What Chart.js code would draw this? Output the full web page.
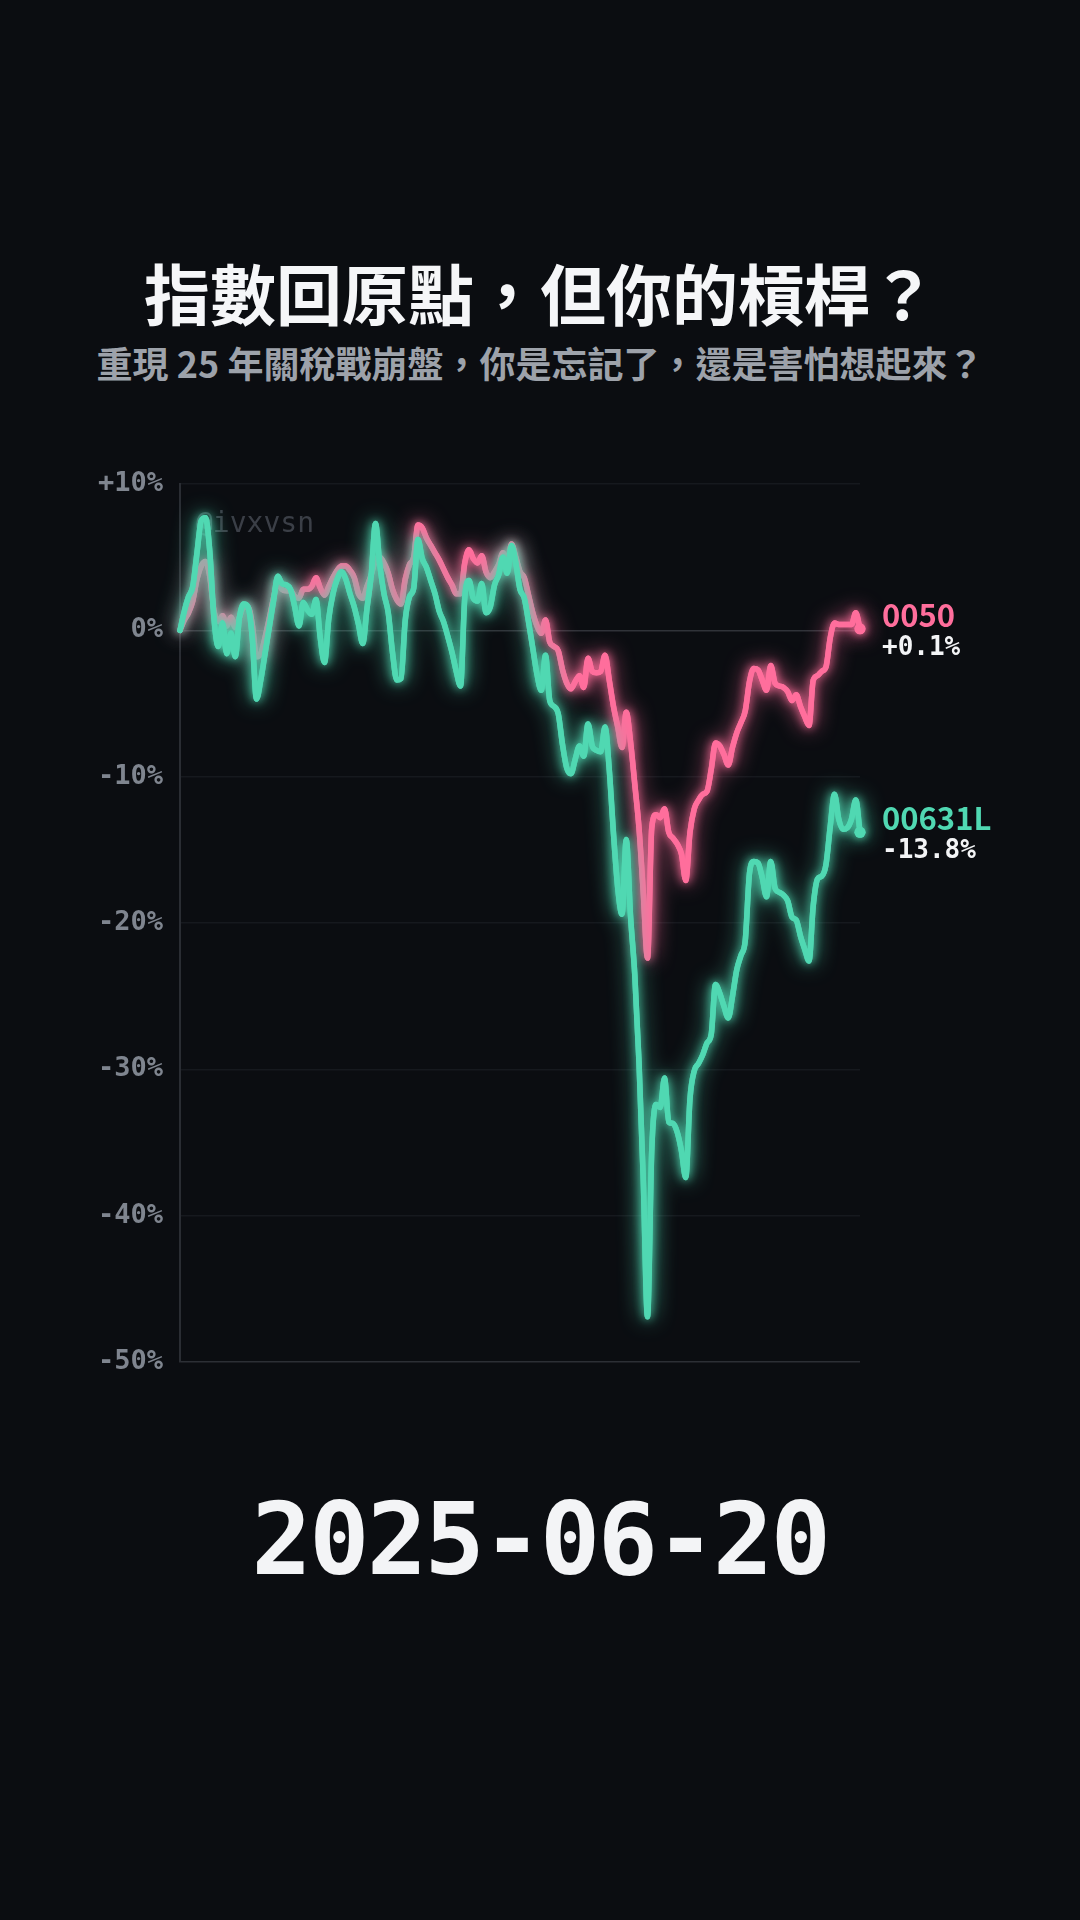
<!DOCTYPE html>
<html lang="zh-Hant">
<head>
<meta charset="utf-8">
<title>指數回原點，但你的槓桿？</title>
<script src="https://cdn.jsdelivr.net/npm/chart.js@4.4.1/dist/chart.umd.min.js"></script>
<style>
    html, body { margin: 0; padding: 0; background: #0b0d11; }
    body { width: 1080px; height: 1920px; position: relative; overflow: hidden; }
    .title {
        position: absolute; left: 0; top: 251px; width: 1080px;
        text-align: center; line-height: 80px;
        font-family: "Noto Sans CJK TC", sans-serif; font-weight: 700;
        font-size: 66px; color: #f5f6f8;
    }
    .subtitle {
        position: absolute; left: 0; top: 339px; width: 1080px;
        text-align: center; line-height: 46px;
        font-family: "Noto Sans CJK TC", sans-serif; font-weight: 700;
        font-size: 36px; color: #9da2aa;
    }
    .chart-wrap { position: absolute; left: 0; top: 440px; width: 1080px; height: 980px; }
    .date {
        position: absolute; left: 0; top: 1480px; width: 1080px;
        text-align: center; line-height: 120px; letter-spacing: -2.5px;
        font-family: "DejaVu Sans Mono", monospace; font-weight: 700;
        font-size: 100px; color: #f3f4f6;
    }
</style>
</head>
<body>
<div class="title">指數回原點，但你的槓桿？</div>
<div class="subtitle">重現 25 年關稅戰崩盤，你是忘記了，還是害怕想起來？</div>
<div class="chart-wrap"><canvas id="chart" width="1080" height="980"></canvas></div>
<div class="date" id="date"></div>

<script>
(function () {
    "use strict";

    // Data (cumulative return %, one point per trading day)
    const currentDate = "2025-06-20";
    const seriesNames = ["00631L", "0050"];
    const seriesColors = ["#50d8b2", "#ff6e9c"];
    const yTicks = [10, 0, -10, -20, -30, -40, -50];

    const ret00631L = [
        0, 1.3, 2.3, 3.0, 5.3, 7.5, 7.7, 5.4, 0.8, -1.1,
        0.5, -1.6, -0.2, -1.8, 0.9, 1.8, 1.6, -0.5, -4.7, -3.4,
        -1.6, 0.2, 2.0, 3.7, 3.2, 3.1, 2.8, 1.6, 0.3, 1.9,
        1.4, 1.1, 2.1, -0.5, -2.2, 0.8, 2.5, 3.5, 4.0, 3.5,
        2.5, 1.6, 0.4, -0.9, 1.5, 3.8, 7.3, 4.5, 2.5, 1.2,
        -1.5, -3.4, -3.3, 0.7, 2.3, 2.9, 6.2, 4.9, 4.3, 3.4,
        2.5, 1.3, 0.6, -0.4, -1.5, -2.8, -3.8, 2.2, 3.4, 2.2,
        2.0, 3.2, 1.2, 1.6, 3.1, 3.8, 5.0, 3.9, 5.8, 4.6,
        2.8, 2.2, 0.6, -1.2, -3.0, -4.1, -1.7, -4.8, -5.2, -5.7,
        -7.8, -9.4, -9.8, -8.8, -7.9, -8.6, -6.4, -7.9, -8.2, -8.3,
        -6.6, -9.5, -13.9, -17.6, -19.4, -14.3, -19.5, -23.5, -29.5, -37.5,
        -46.9, -35.5, -32.4, -32.6, -30.6, -33.6, -33.7, -34.3, -35.6, -37.4,
        -32.0, -30.1, -29.6, -29.0, -28.2, -27.6, -24.2, -24.8, -25.7, -26.5,
        -25.0, -23.2, -22.2, -21.2, -16.6, -15.8, -15.9, -16.9, -18.2, -15.8,
        -17.6, -17.9, -18.1, -18.5, -19.6, -19.8, -20.9, -21.8, -22.6, -18.8,
        -17.0, -16.8, -16.0, -13.4, -11.2, -12.9, -13.6, -13.5, -12.9, -11.6,
        -13.8
    ];

    const ret0050 = [
        0, 0.7, 1.2, 2.0, 3.5, 4.4, 4.7, 3.7, 1.3, 0.6,
        1.0, 0.3, 0.9, 0.2, 0.9, 1.6, 1.6, 0.4, -1.8, -1.6,
        -0.5, 0.8, 2.2, 3.3, 2.8, 2.7, 2.7, 2.3, 2.2, 2.8,
        2.8, 3.0, 3.6, 2.9, 2.4, 3.0, 3.6, 4.1, 4.4, 4.4,
        4.1, 3.6, 2.5, 2.2, 3.0, 3.8, 4.8, 5.0, 4.6, 3.9,
        2.8, 2.1, 1.8, 3.5, 4.5, 5.0, 7.2, 7.0, 6.3, 5.8,
        5.3, 4.8, 4.2, 3.6, 3.1, 2.5, 2.5, 4.6, 5.5, 4.9,
        4.6, 5.1, 4.0, 3.6, 4.0, 4.5, 5.3, 4.5, 5.9, 5.0,
        4.0, 3.6, 2.4, 1.2, 0.3, -0.2, 0.7, -0.8, -1.1, -1.4,
        -2.7, -3.6, -4.0, -3.5, -3.1, -3.9, -1.9, -2.8, -2.9, -2.8,
        -1.7, -3.4, -5.2, -6.6, -8.0, -5.6, -7.6, -10.5, -13.5, -17.9,
        -22.4, -13.5, -12.6, -12.8, -12.2, -13.8, -14.2, -14.6, -15.3, -17.1,
        -13.8, -12.2, -11.6, -11.2, -11.0, -9.5, -7.7, -7.9, -8.5, -9.2,
        -8.0, -7.0, -6.3, -5.5, -3.5, -2.6, -2.7, -3.4, -4.1, -2.4,
        -3.6, -3.8, -3.9, -4.2, -4.8, -4.4, -5.2, -5.9, -6.5, -3.4,
        -3.1, -2.8, -2.5, -0.5, 0.5, 0.4, 0.4, 0.4, 0.4, 1.2,
        0.1
    ];

    const days = ret0050.map((_, i) => i);

    document.getElementById("date").textContent = currentDate;

    const lastPointRadius = (ctx) =>
        ctx.dataIndex === ctx.dataset.data.length - 1 ? 5.5 : 0;

    // Neon glow: draw the line with a coloured shadow, then once more on top
    const glowPlugin = {
        id: "glow",
        beforeDatasetDraw(chart, args) {
            const ctx = chart.ctx;
            ctx.save();
            ctx.shadowColor = chart.data.datasets[args.index].borderColor;
            ctx.shadowBlur = 22;
        },
        afterDatasetDraw(chart, args) {
            const ctx = chart.ctx;
            ctx.shadowBlur = 10;
            args.meta.controller.draw();
            ctx.restore();
        },
    };

    // Watermark in the top-left corner of the plot
    const watermarkPlugin = {
        id: "watermark",
        beforeDatasetsDraw(chart) {
            const { ctx, chartArea } = chart;
            ctx.save();
            ctx.font = "28px 'DejaVu Sans Mono'";
            ctx.fillStyle = "#3b3f47";
            ctx.textBaseline = "alphabetic";
            ctx.fillText("@ivxvsn", chartArea.left + 16, chartArea.top + 48);
            ctx.restore();
        },
    };

    // Name + last value next to the end of each line
    const endLabelPlugin = {
        id: "endLabel",
        afterDatasetsDraw(chart) {
            const ctx = chart.ctx;
            chart.data.datasets.forEach((ds, i) => {
                const meta = chart.getDatasetMeta(i);
                const pt = meta.data[meta.data.length - 1];
                const v = ds.data[ds.data.length - 1];
                const x = chart.chartArea.right + 22;
                ctx.save();
                ctx.textBaseline = "middle";
                ctx.textAlign = "left";
                ctx.font = "bold 31px 'Noto Sans CJK TC'";
                ctx.fillStyle = ds.borderColor;
                ctx.fillText(ds.label, x, pt.y - 14);
                ctx.font = "bold 26px 'DejaVu Sans Mono'";
                ctx.fillStyle = "#f3f4f6";
                ctx.fillText((v > 0 ? "+" : "") + v.toFixed(1) + "%", x, pt.y + 19);
                ctx.restore();
            });
        },
    };

    const makeDataset = (label, color, data) => ({
        label: label,
        data: data,
        borderColor: color,
        backgroundColor: color,
        borderWidth: 5.5,
        borderCapStyle: "round",
        borderJoinStyle: "round",
        cubicInterpolationMode: "monotone",
        pointRadius: lastPointRadius,
        pointHoverRadius: 0,
        pointBorderWidth: 0,
        clip: false,
    });

    new Chart(document.getElementById("chart").getContext("2d"), {
        type: "line",
        data: {
            labels: days,
            datasets: [
                makeDataset(seriesNames[0], seriesColors[0], ret00631L),
                makeDataset(seriesNames[1], seriesColors[1], ret0050),
            ],
        },
        options: {
            responsive: false,
            animation: false,
            layout: {
                padding: { top: 44, right: 220, bottom: 58, left: 0 },
            },
            plugins: {
                legend: { display: false },
                tooltip: { enabled: false },
            },
            scales: {
                x: { display: false },
                y: {
                    min: yTicks[yTicks.length - 1],
                    max: yTicks[0],
                    afterFit: (scale) => {
                        scale.width = 180;
                    },
                    afterBuildTicks: (scale) => {
                        scale.ticks = yTicks.map((v) => ({ value: v }));
                    },
                    ticks: {
                        padding: 17,
                        color: "#7f858f",
                        font: { family: "DejaVu Sans Mono", size: 27, weight: "bold" },
                        callback: (value) => (value > 0 ? "+" : "") + value + "%",
                    },
                    grid: {
                        drawTicks: false,
                        lineWidth: 1.5,
                        color: (ctx) =>
                            ctx.tick.value === 0
                                ? "#303339"
                                : ctx.tick.value === -50
                                ? "#2c2f35"
                                : "#16191e",
                    },
                    border: {
                        display: true,
                        color: "#2a2d33",
                        width: 2,
                    },
                },
            },
        },
        plugins: [glowPlugin, watermarkPlugin, endLabelPlugin],
    });
})();
</script>
</body>
</html>
